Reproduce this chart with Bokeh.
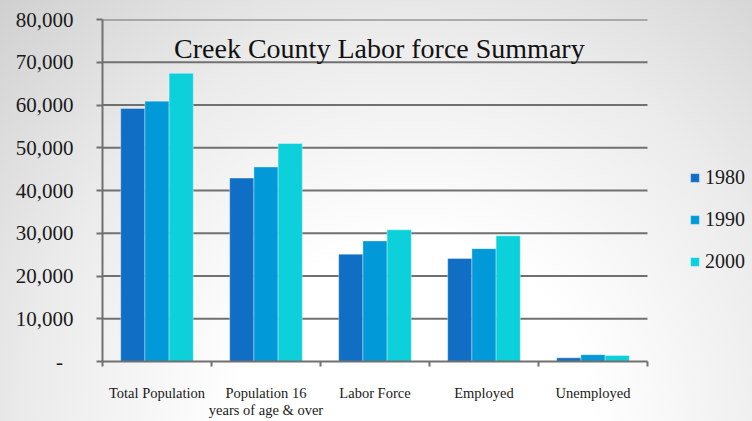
import numpy as np
from bokeh.plotting import figure
from bokeh.models import (ColumnDataSource, Range1d, FixedTicker, NumeralTickFormatter,
                          Legend, LegendItem, Label)
from bokeh.embed import file_html
from bokeh.resources import INLINE

# ---- data ----
categories = ["Total Population", "Population 16\nyears of age & over", "Labor Force",
              "Employed", "Unemployed"]
years = ["1980", "1990", "2000"]
values_1980 = [59200, 42900, 25100, 24100, 850]
values_1990 = [60900, 45500, 28200, 26400, 1600]
values_2000 = [67400, 51000, 30800, 29400, 1400]
y_ticks = [0, 10000, 20000, 30000, 40000, 50000, 60000, 70000, 80000]
title_text = "Creek County Labor force Summary"

colors = ["#106FC4", "#0199D7", "#0CD1DB"]
series = [values_1980, values_1990, values_2000]

SERIF = "Liberation Serif"
GRID = "#707070"

n = len(categories)
# frame spans the plot area plus the legend strip on the right (legend must lie inside the frame)
x_end = n * 650 / 545

p = figure(width=752, height=421, output_backend="svg", toolbar_location=None,
           x_range=Range1d(0, x_end), y_range=Range1d(0, 80000),
           min_border_left=102, min_border_right=0, min_border_top=19, min_border_bottom=55)

p.background_fill_color = None
p.border_fill_color = None
p.outline_line_color = None
p.styles = {"background": "radial-gradient(ellipse farthest-corner at 55% 100%, #ffffff 30%, #ebebeb 66%, #d0d0d0 100%)"}

# horizontal grid lines limited to the category area
grid_src = ColumnDataSource(dict(y=y_ticks[1:]))
p.segment(x0=0, x1=n, y0="y", y1="y", source=grid_src, line_color=GRID, line_width=2,
          level="underlay")

centers = np.arange(n) + 0.5
bar_w = 0.222
offsets = [-bar_w, 0.0, bar_w]

items = []
for yr, vals, col, off in zip(years, series, colors, offsets):
    src = ColumnDataSource(dict(x=centers + off, top=vals))
    r = p.vbar(x="x", top="top", width=bar_w, bottom=0, source=src,
               fill_color=col, line_color="white", line_alpha=0.35, line_width=1)
    items.append(LegendItem(label=yr, renderers=[r]))

# y axis
p.yaxis.ticker = FixedTicker(ticks=y_ticks, minor_ticks=[])
p.yaxis.formatter = NumeralTickFormatter(format="0,0")
p.yaxis.major_label_overrides = {0: "-\u00a0\u00a0"}
p.yaxis.major_label_text_font = SERIF
p.yaxis.major_label_text_font_size = "21px"
p.yaxis.major_label_text_color = "#1a1a1a"
p.yaxis.major_label_standoff = 23
p.yaxis.axis_line_color = GRID
p.yaxis.axis_line_width = 2
p.yaxis.major_tick_line_color = GRID
p.yaxis.major_tick_line_width = 2
p.yaxis.major_tick_out = 6
p.yaxis.major_tick_in = 0
p.yaxis.minor_tick_line_color = None

# x axis: labels at category centres, ticks at boundaries
p.xaxis.bounds = (0, n)
p.xaxis.ticker = FixedTicker(ticks=list(centers), minor_ticks=list(range(n + 1)))
p.xaxis.major_label_overrides = {float(c): lab for c, lab in zip(centers, categories)}
p.xaxis.major_label_text_font = SERIF
p.xaxis.major_label_text_font_size = "14.5px"
p.xaxis.major_label_text_color = "#1a1a1a"
p.xaxis.major_label_text_line_height = 1.1
p.xaxis.major_label_standoff = 17
p.xaxis.major_tick_line_color = None
p.xaxis.minor_tick_line_color = GRID
p.xaxis.minor_tick_line_width = 2
p.xaxis.minor_tick_out = 5
p.xaxis.minor_tick_in = 0
p.xaxis.axis_line_color = GRID
p.xaxis.axis_line_width = 2

p.xgrid.grid_line_color = None
p.ygrid.grid_line_color = None

title = Label(x=n / 2 + 0.04, y=73300, text=title_text,
              text_font=SERIF, text_font_size="28px", text_color="#111111",
              text_align="center", text_baseline="middle")
p.add_layout(title)

legend = Legend(items=items, location=(587, 88), orientation="vertical",
                glyph_width=11, glyph_height=11, label_standoff=5, label_height=22,
                spacing=19, padding=0, margin=0,
                label_text_font=SERIF, label_text_font_size="20px", label_text_color="#1a1a1a",
                border_line_color=None, background_fill_alpha=0)
p.add_layout(legend)

open("out.html", "w").write(file_html(p, INLINE))
